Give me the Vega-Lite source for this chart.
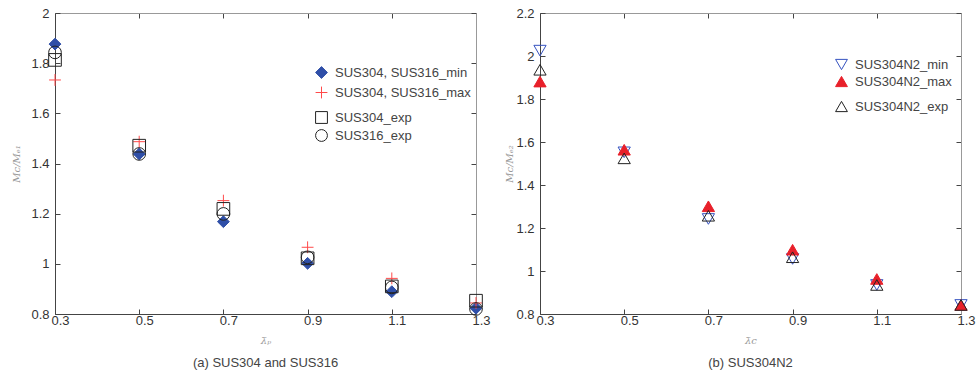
{
  "$schema": "https://vega.github.io/schema/vega-lite/v6.json",
  "padding": {"left": 11, "top": 7, "right": 5, "bottom": 5},
  "background": "white",
  "config": {
    "view": {"stroke": null},
    "font": "Liberation Sans",
    "axis": {"grid": false, "labelFont": "Liberation Sans", "labelFontSize": 13, "labelColor": "#333", "tickColor": "#444", "domainColor": "#444", "tickSize": -5, "labelPadding": 11, "titleFont": "DejaVu Serif", "titleFontStyle": "italic", "titleFontWeight": "normal", "titleColor": "#999", "titleFontSize": 10},
    "axisX": {"labelPadding": 5, "labelOffset": 5, "labelFlush": false},
    "legend": {"labelFont": "Liberation Sans", "labelFontSize": 13, "labelColor": "#444", "labelOffset": 7, "padding": 0, "rowPadding": 3, "symbolStrokeWidth": 1, "symbolSize": 140, "title": null},
    "title": {"font": "Liberation Sans", "fontSize": 13, "fontWeight": "normal", "color": "#444"}
  },
  "datasets": {
    "a_sim": [
      {"x": 0.3, "y": 1.876, "series": "SUS304, SUS316_min"},
      {"x": 0.5, "y": 1.438, "series": "SUS304, SUS316_min"},
      {"x": 0.7, "y": 1.168, "series": "SUS304, SUS316_min"},
      {"x": 0.9, "y": 1.002, "series": "SUS304, SUS316_min"},
      {"x": 1.1, "y": 0.889, "series": "SUS304, SUS316_min"},
      {"x": 1.3, "y": 0.823, "series": "SUS304, SUS316_min"},
      {"x": 0.3, "y": 1.733, "series": "SUS304, SUS316_max"},
      {"x": 0.5, "y": 1.487, "series": "SUS304, SUS316_max"},
      {"x": 0.7, "y": 1.252, "series": "SUS304, SUS316_max"},
      {"x": 0.9, "y": 1.066, "series": "SUS304, SUS316_max"},
      {"x": 1.1, "y": 0.942, "series": "SUS304, SUS316_max"},
      {"x": 1.3, "y": 0.844, "series": "SUS304, SUS316_max"}
    ],
    "a_exp": [
      {"x": 0.3, "y": 1.813, "series": "SUS304_exp"},
      {"x": 0.5, "y": 1.471, "series": "SUS304_exp"},
      {"x": 0.7, "y": 1.219, "series": "SUS304_exp"},
      {"x": 0.9, "y": 1.022, "series": "SUS304_exp"},
      {"x": 1.1, "y": 0.910, "series": "SUS304_exp"},
      {"x": 1.3, "y": 0.853, "series": "SUS304_exp"},
      {"x": 0.3, "y": 1.843, "series": "SUS316_exp"},
      {"x": 0.5, "y": 1.438, "series": "SUS316_exp"},
      {"x": 0.7, "y": 1.199, "series": "SUS316_exp"},
      {"x": 0.9, "y": 1.026, "series": "SUS316_exp"},
      {"x": 1.1, "y": 0.906, "series": "SUS316_exp"},
      {"x": 1.3, "y": 0.820, "series": "SUS316_exp"}
    ],
    "b_sim": [
      {"x": 0.3, "y": 2.025, "series": "SUS304N2_min"},
      {"x": 0.5, "y": 1.552, "series": "SUS304N2_min"},
      {"x": 0.7, "y": 1.242, "series": "SUS304N2_min"},
      {"x": 0.9, "y": 1.056, "series": "SUS304N2_min"},
      {"x": 1.1, "y": 0.935, "series": "SUS304N2_min"},
      {"x": 1.3, "y": 0.842, "series": "SUS304N2_min"},
      {"x": 0.3, "y": 1.881, "series": "SUS304N2_max"},
      {"x": 0.5, "y": 1.564, "series": "SUS304N2_max"},
      {"x": 0.7, "y": 1.301, "series": "SUS304N2_max"},
      {"x": 0.9, "y": 1.099, "series": "SUS304N2_max"},
      {"x": 1.1, "y": 0.963, "series": "SUS304N2_max"},
      {"x": 1.3, "y": 0.842, "series": "SUS304N2_max"}
    ],
    "b_exp": [
      {"x": 0.3, "y": 1.936, "series": "SUS304N2_exp"},
      {"x": 0.5, "y": 1.524, "series": "SUS304N2_exp"},
      {"x": 0.7, "y": 1.257, "series": "SUS304N2_exp"},
      {"x": 0.9, "y": 1.064, "series": "SUS304N2_exp"},
      {"x": 1.1, "y": 0.935, "series": "SUS304N2_exp"},
      {"x": 1.3, "y": 0.842, "series": "SUS304N2_exp"}
    ]
  },
  "hconcat": [
    {
      "width": 421,
      "height": 301,
      "title": {"text": "(a) SUS304 and SUS316", "orient": "bottom", "offset": 12},
      "resolve": {"scale": {"x": "independent", "y": "independent", "color": "independent", "shape": "independent", "fill": "independent"}, "axis": {"x": "independent", "y": "independent"}},
      "layer": [
        {
          "data": {"name": "a_sim"},
          "mark": {"type": "point", "filled": false, "strokeWidth": 1, "opacity": 1},
          "encoding": {
            "x": {"field": "x", "type": "quantitative", "scale": {"domain": [0.3, 1.3], "nice": false, "zero": false}, "axis": {"orient": "bottom", "values": [0.3, 0.5, 0.7, 0.9, 1.1, 1.3], "format": "~g", "title": "λ̄ₚ", "titlePadding": 8}},
            "y": {"field": "y", "type": "quantitative", "scale": {"domain": [0.8, 2], "nice": false, "zero": false}, "axis": {"orient": "left", "values": [0.8, 1, 1.2, 1.4, 1.6, 1.8, 2], "format": "~g", "title": "Mc/Mₑ₁", "titlePadding": 9}},
            "shape": {"field": "series", "type": "nominal", "scale": {"domain": ["SUS304, SUS316_min", "SUS304, SUS316_max"], "range": ["diamond", "M-1,0H1M0,-1V1"]}, "legend": {"orient": "none", "legendX": 260, "legendY": 53}},
            "color": {"field": "series", "type": "nominal", "scale": {"domain": ["SUS304, SUS316_min", "SUS304, SUS316_max"], "range": ["#2f4fa8", "#ff4a4a"]}, "legend": {"orient": "none", "legendX": 260, "legendY": 53}},
            "fill": {"field": "series", "type": "nominal", "scale": {"domain": ["SUS304, SUS316_min", "SUS304, SUS316_max"], "range": ["#2f4fa8", "transparent"]}, "legend": {"orient": "none", "legendX": 260, "legendY": 53}},
            "size": {"value": 140}
          }
        },
        {
          "data": {"name": "a_exp"},
          "mark": {"type": "point", "filled": false, "strokeWidth": 1, "opacity": 1},
          "encoding": {
            "x": {"field": "x", "type": "quantitative", "scale": {"domain": [0.3, 1.3], "nice": false, "zero": false}, "axis": null},
            "y": {"field": "y", "type": "quantitative", "scale": {"domain": [0.8, 2], "nice": false, "zero": false}, "axis": null},
            "shape": {"field": "series", "type": "nominal", "scale": {"domain": ["SUS304_exp", "SUS316_exp"], "range": ["square", "circle"]}, "legend": {"orient": "none", "legendX": 260, "legendY": 98, "rowPadding": 1}},
            "color": {"field": "series", "type": "nominal", "scale": {"domain": ["SUS304_exp", "SUS316_exp"], "range": ["#222222", "#222222"]}, "legend": {"orient": "none", "legendX": 260, "legendY": 98, "rowPadding": 1}},
            "size": {"value": 160}
          }
        },
        {
          "data": {"name": "a_exp"},
          "mark": {"type": "point", "opacity": 0},
          "encoding": {
            "x": {"field": "x", "type": "quantitative", "scale": {"domain": [0.3, 1.3], "nice": false, "zero": false}, "axis": {"orient": "top", "values": [0.3, 0.5, 0.7, 0.9, 1.1, 1.3], "labels": false, "title": null, "domainColor": "#999"}},
            "y": {"field": "y", "type": "quantitative", "scale": {"domain": [0.8, 2], "nice": false, "zero": false}, "axis": {"orient": "right", "values": [0.8, 1, 1.2, 1.4, 1.6, 1.8, 2], "labels": false, "title": null, "domainColor": "#999"}}
          }
        }
      ]
    },
    {
      "width": 421,
      "height": 301,
      "title": {"text": "(b) SUS304N2", "orient": "bottom", "offset": 12},
      "resolve": {"scale": {"x": "independent", "y": "independent", "color": "independent", "shape": "independent", "fill": "independent"}, "axis": {"x": "independent", "y": "independent"}},
      "layer": [
        {
          "data": {"name": "b_sim"},
          "mark": {"type": "point", "filled": false, "strokeWidth": 1, "opacity": 1},
          "encoding": {
            "x": {"field": "x", "type": "quantitative", "scale": {"domain": [0.3, 1.3], "nice": false, "zero": false}, "axis": {"orient": "bottom", "values": [0.3, 0.5, 0.7, 0.9, 1.1, 1.3], "format": "~g", "title": "λ̄c", "titlePadding": 8}},
            "y": {"field": "y", "type": "quantitative", "scale": {"domain": [0.8, 2.2], "nice": false, "zero": false}, "axis": {"orient": "left", "values": [0.8, 1, 1.2, 1.4, 1.6, 1.8, 2, 2.2], "format": "~g", "title": "Mc/Mₑ₂", "titlePadding": 1}},
            "shape": {"field": "series", "type": "nominal", "scale": {"domain": ["SUS304N2_min", "SUS304N2_max"], "range": ["triangle-down", "triangle-up"]}, "legend": {"orient": "none", "legendX": 295, "legendY": 45, "rowPadding": 2}},
            "color": {"field": "series", "type": "nominal", "scale": {"domain": ["SUS304N2_min", "SUS304N2_max"], "range": ["#3552c0", "#e8202a"]}, "legend": {"orient": "none", "legendX": 295, "legendY": 45, "rowPadding": 2}},
            "fill": {"field": "series", "type": "nominal", "scale": {"domain": ["SUS304N2_min", "SUS304N2_max"], "range": ["transparent", "#e8202a"]}, "legend": {"orient": "none", "legendX": 295, "legendY": 45, "rowPadding": 2}},
            "size": {"value": 150}
          }
        },
        {
          "data": {"name": "b_exp"},
          "mark": {"type": "point", "filled": false, "strokeWidth": 1, "opacity": 1},
          "encoding": {
            "x": {"field": "x", "type": "quantitative", "scale": {"domain": [0.3, 1.3], "nice": false, "zero": false}, "axis": null},
            "y": {"field": "y", "type": "quantitative", "scale": {"domain": [0.8, 2.2], "nice": false, "zero": false}, "axis": null},
            "shape": {"field": "series", "type": "nominal", "scale": {"domain": ["SUS304N2_exp"], "range": ["triangle-up"]}, "legend": {"orient": "none", "legendX": 295, "legendY": 87}},
            "color": {"field": "series", "type": "nominal", "scale": {"domain": ["SUS304N2_exp"], "range": ["#222222"]}, "legend": {"orient": "none", "legendX": 295, "legendY": 87}},
            "size": {"value": 150}
          }
        },
        {
          "data": {"name": "b_exp"},
          "mark": {"type": "point", "opacity": 0},
          "encoding": {
            "x": {"field": "x", "type": "quantitative", "scale": {"domain": [0.3, 1.3], "nice": false, "zero": false}, "axis": {"orient": "top", "values": [0.3, 0.5, 0.7, 0.9, 1.1, 1.3], "labels": false, "title": null, "domainColor": "#999"}},
            "y": {"field": "y", "type": "quantitative", "scale": {"domain": [0.8, 2.2], "nice": false, "zero": false}, "axis": {"orient": "right", "values": [0.8, 1, 1.2, 1.4, 1.6, 1.8, 2, 2.2], "labels": false, "title": null, "domainColor": "#999"}}
          }
        }
      ]
    }
  ],
  "spacing": 13
}
